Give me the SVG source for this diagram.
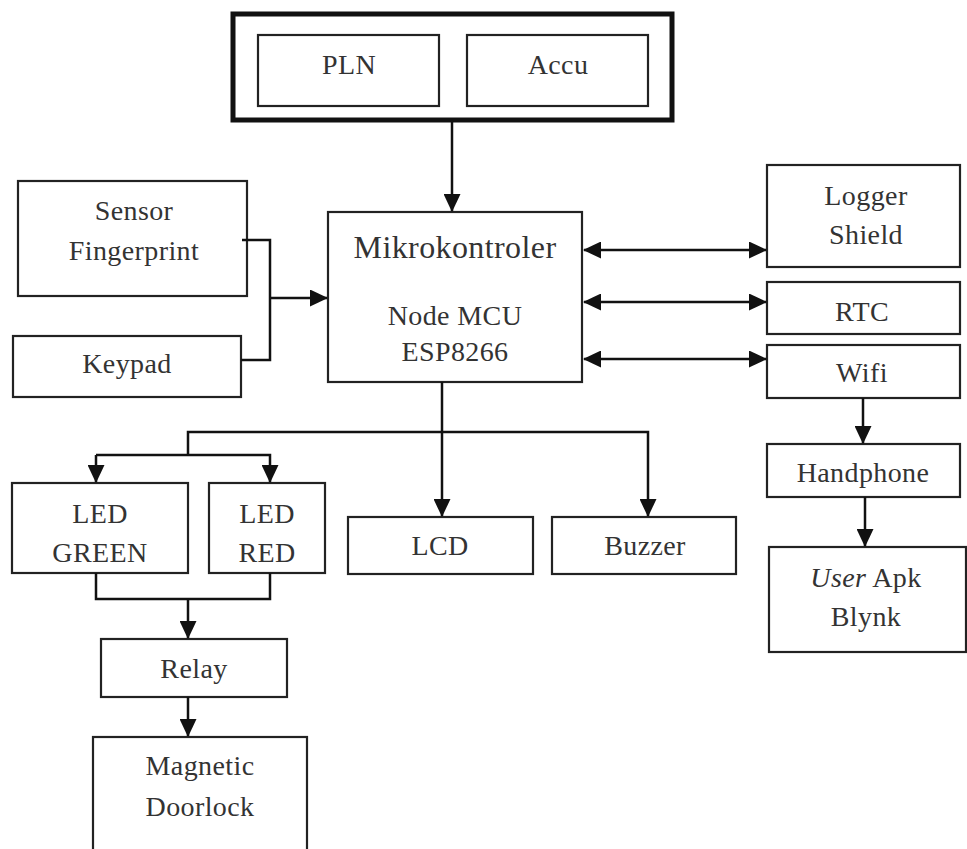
<svg xmlns="http://www.w3.org/2000/svg" width="967" height="849" viewBox="0 0 967 849">
<style>
.box{fill:#fff;stroke:#222;stroke-width:2.2}
.thick{fill:#fff;stroke:#111;stroke-width:5}
.t{font-family:'Liberation Serif','Times New Roman',serif;font-size:28px;letter-spacing:0.4px;fill:#333;text-anchor:middle}
.big{font-size:32px}
.ln{fill:none;stroke:#111;stroke-width:2.5}
.ar{marker-end:url(#ah)}
.bi{marker-end:url(#ah);marker-start:url(#ah)}
</style>
<defs>
<marker id="ah" markerUnits="userSpaceOnUse" markerWidth="18" markerHeight="17" viewBox="0 0 18 17" refX="17" refY="8.5" orient="auto-start-reverse">
<path d="M0,0 L18,8.5 L0,17 Z" fill="#111"/>
</marker>
</defs>
<rect width="967" height="849" fill="#fff"/>
<g id="power">
<rect class="thick" x="233" y="14" width="439" height="106"/>
</g>
<g id="pln"><rect class="box" x="258" y="35" width="181" height="71"/><text class="t" x="349" y="74">PLN</text></g>
<g id="accu"><rect class="box" x="467" y="35" width="181" height="71"/><text class="t" x="558" y="74">Accu</text></g>
<g id="mcu"><rect class="box" x="328" y="212" width="254" height="170"/>
<text class="t big" x="455" y="258">Mikrokontroler</text>
<text class="t" x="455" y="325">Node MCU</text>
<text class="t" x="455" y="361">ESP8266</text></g>
<g id="sensor"><rect class="box" x="18" y="181" width="229" height="115"/>
<text class="t" x="134" y="220">Sensor</text>
<text class="t" x="134" y="260">Fingerprint</text></g>
<g id="keypad"><rect class="box" x="13" y="336" width="228" height="61"/><text class="t" x="127" y="373">Keypad</text></g>
<g id="logger"><rect class="box" x="767" y="165" width="193" height="102"/>
<text class="t" x="866" y="205">Logger</text><text class="t" x="866" y="244">Shield</text></g>
<g id="rtc"><rect class="box" x="767" y="282" width="193" height="52"/><text class="t" x="862" y="321">RTC</text></g>
<g id="wifi"><rect class="box" x="767" y="345" width="193" height="53"/><text class="t" x="862" y="382">Wifi</text></g>
<g id="handphone"><rect class="box" x="767" y="444" width="193" height="53"/><text class="t" x="863" y="482">Handphone</text></g>
<g id="userapk"><rect class="box" x="769" y="547" width="197" height="105"/>
<text class="t" x="866" y="587"><tspan font-style="italic">User</tspan> Apk</text>
<text class="t" x="866" y="626">Blynk</text></g>
<g id="ledgreen"><rect class="box" x="12" y="483" width="176" height="90"/>
<text class="t" x="100" y="523">LED</text><text class="t" x="100" y="562">GREEN</text></g>
<g id="ledred"><rect class="box" x="209" y="483" width="116" height="90"/>
<text class="t" x="267" y="523">LED</text><text class="t" x="267" y="562">RED</text></g>
<g id="lcd"><rect class="box" x="348" y="517" width="185" height="57"/><text class="t" x="440" y="555">LCD</text></g>
<g id="buzzer"><rect class="box" x="552" y="517" width="184" height="57"/><text class="t" x="645" y="555">Buzzer</text></g>
<g id="relay"><rect class="box" x="101" y="639" width="186" height="58"/><text class="t" x="194" y="678">Relay</text></g>
<g id="doorlock"><rect class="box" x="93" y="737" width="214" height="125"/>
<text class="t" x="200" y="775">Magnetic</text><text class="t" x="200" y="816">Doorlock</text></g>
<g id="connectors">
<path class="ln ar" d="M452,120 V211"/>
<path class="ln" d="M242,240 H270 V360 H241"/>
<path class="ln ar" d="M270,298 H327"/>
<path class="ln bi" d="M584,250 H766"/>
<path class="ln bi" d="M584,302 H766"/>
<path class="ln bi" d="M584,359 H766"/>
<path class="ln ar" d="M863,398 V443"/>
<path class="ln ar" d="M865,497 V546"/>
<path class="ln ar" d="M442,382 V516"/>
<path class="ln ar" d="M188,455 V432 H648 V516"/>
<path class="ln ar" d="M96,455 V482"/>
<path class="ln ar" d="M96,455 H270 V482"/>
<path class="ln" d="M96,573 V599 H270 V573"/>
<path class="ln ar" d="M188,599 V638"/>
<path class="ln ar" d="M188,697 V736"/>
</g>
</svg>
